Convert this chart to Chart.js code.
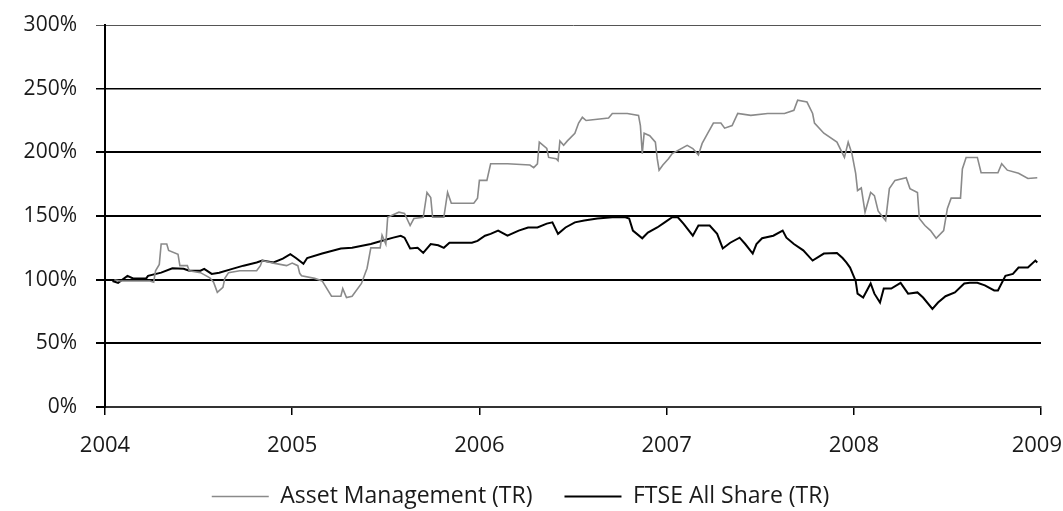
<!DOCTYPE html>
<html>
<head>
<meta charset="utf-8">
<script src="https://cdn.jsdelivr.net/npm/chart.js@4/dist/chart.umd.min.js"></script>
<style>
    html, body { margin: 0; padding: 0; background: #fff; }
    #wrap { width: 1063px; height: 511px; }
</style>
</head>
<body>
<div id="wrap"><canvas id="perfChart"></canvas></div>
<script>
// Series (x = decimal year, y = % of start value)
const amDates = [2004.05, 2004.08, 2004.24, 2004.26, 2004.27, 2004.29, 2004.30, 2004.33, 2004.34, 2004.39, 2004.40, 2004.44, 2004.45, 2004.51, 2004.56, 2004.58, 2004.60, 2004.63, 2004.64, 2004.66, 2004.72, 2004.81, 2004.83, 2004.84, 2004.90, 2004.97, 2005.00, 2005.03, 2005.04, 2005.05, 2005.12, 2005.16, 2005.21, 2005.26, 2005.27, 2005.29, 2005.32, 2005.37, 2005.39, 2005.40, 2005.42, 2005.47, 2005.48, 2005.50, 2005.51, 2005.57, 2005.60, 2005.63, 2005.65, 2005.70, 2005.72, 2005.74, 2005.75, 2005.81, 2005.83, 2005.85, 2005.97, 2005.99, 2006.00, 2006.04, 2006.06, 2006.15, 2006.27, 2006.29, 2006.31, 2006.32, 2006.36, 2006.37, 2006.41, 2006.42, 2006.43, 2006.45, 2006.47, 2006.51, 2006.53, 2006.55, 2006.57, 2006.69, 2006.71, 2006.79, 2006.85, 2006.86, 2006.87, 2006.88, 2006.91, 2006.94, 2006.95, 2006.96, 2006.98, 2007.01, 2007.03, 2007.11, 2007.14, 2007.17, 2007.19, 2007.22, 2007.25, 2007.29, 2007.31, 2007.35, 2007.38, 2007.45, 2007.54, 2007.63, 2007.68, 2007.70, 2007.75, 2007.78, 2007.79, 2007.84, 2007.91, 2007.95, 2007.97, 2007.99, 2008.01, 2008.02, 2008.04, 2008.06, 2008.09, 2008.11, 2008.13, 2008.15, 2008.17, 2008.19, 2008.22, 2008.28, 2008.30, 2008.34, 2008.35, 2008.38, 2008.41, 2008.44, 2008.48, 2008.50, 2008.52, 2008.57, 2008.58, 2008.60, 2008.66, 2008.68, 2008.77, 2008.79, 2008.82, 2008.88, 2008.93, 2008.98];
const amValues = [100, 99, 99, 98, 107, 112, 128, 128, 123, 120, 111, 111, 107, 105.5, 101.5, 98, 90, 94, 101, 105.5, 107, 107, 111, 115, 113, 111, 113, 111, 105, 103, 101, 99, 87, 87, 93, 86, 87, 97, 105, 109, 125, 125, 135, 128, 149, 153, 152, 142.5, 148, 149, 168.5, 164.5, 149, 149, 168.5, 160, 160, 164, 178, 178, 191, 191, 190, 188, 191, 208, 203, 196, 195, 193.5, 209, 205.5, 209, 215, 223, 227.5, 225, 227, 230.5, 230.5, 229, 221, 199, 215, 213, 208, 195, 186, 190, 195, 199, 205.5, 203, 198, 207, 215, 223, 223, 219, 221, 230.5, 229, 230.5, 230.5, 233, 241, 239.5, 230.5, 223, 215, 208, 196, 208, 199, 183.5, 170, 172, 153, 168.5, 166, 154, 150, 146.5, 171.5, 178, 180, 171.5, 168.5, 148, 142.5, 138.5, 132.5, 138.5, 156, 164, 164, 187, 196, 196, 184, 184, 191, 186, 183.5, 179.5, 180];

const ftseDates = [2004.04, 2004.07, 2004.12, 2004.15, 2004.22, 2004.23, 2004.30, 2004.36, 2004.42, 2004.45, 2004.51, 2004.53, 2004.57, 2004.61, 2004.68, 2004.74, 2004.81, 2004.84, 2004.90, 2004.95, 2004.99, 2005.02, 2005.06, 2005.08, 2005.16, 2005.26, 2005.32, 2005.42, 2005.48, 2005.54, 2005.58, 2005.60, 2005.63, 2005.67, 2005.70, 2005.74, 2005.78, 2005.81, 2005.84, 2005.90, 2005.96, 2005.99, 2006.03, 2006.06, 2006.10, 2006.15, 2006.21, 2006.26, 2006.31, 2006.36, 2006.39, 2006.42, 2006.46, 2006.51, 2006.56, 2006.63, 2006.71, 2006.78, 2006.80, 2006.82, 2006.87, 2006.90, 2006.95, 2006.99, 2007.03, 2007.06, 2007.09, 2007.14, 2007.17, 2007.23, 2007.27, 2007.30, 2007.34, 2007.39, 2007.42, 2007.46, 2007.48, 2007.51, 2007.57, 2007.62, 2007.64, 2007.68, 2007.73, 2007.78, 2007.84, 2007.91, 2007.94, 2007.96, 2007.98, 2008.01, 2008.02, 2008.05, 2008.09, 2008.11, 2008.14, 2008.16, 2008.20, 2008.25, 2008.29, 2008.34, 2008.37, 2008.42, 2008.45, 2008.49, 2008.54, 2008.59, 2008.62, 2008.66, 2008.70, 2008.75, 2008.77, 2008.81, 2008.85, 2008.88, 2008.93, 2008.97, 2008.98];
const ftseValues = [99, 97.5, 103, 101, 101, 103, 105.5, 109, 108.5, 107, 107, 108.5, 104.5, 105.5, 108.5, 111, 113.5, 115, 113.5, 116.5, 120, 117, 112.5, 117, 120.5, 124.5, 125, 128, 130.5, 133, 134.5, 133, 124.5, 125, 121, 128, 127, 125, 129, 129, 129, 130.5, 134.5, 136, 138.5, 134.5, 138.5, 141, 141, 144, 145, 136, 141, 145, 146.5, 148, 149, 149, 148, 138.5, 132.5, 137, 141, 145, 149, 149, 144, 134.5, 142.5, 142.5, 136, 124.5, 129, 133, 128, 120.5, 128, 132.5, 134.5, 138.5, 133, 128, 123, 115, 120.5, 121, 117, 113.5, 109.5, 99, 89, 86, 97, 89, 82, 93, 93, 97.5, 89, 90, 86, 77, 82, 87, 90, 97, 97.5, 97.5, 95.5, 91.5, 91.5, 103, 104.5, 109.5, 109.5, 115, 113.5];

const seriesNames = ["Asset Management (TR)", "FTSE All Share (TR)"];
const yearTicks = [2004, 2005, 2006, 2007, 2008, 2009];
const pctTicks = [0, 50, 100, 150, 200, 250, 300];

const FONT = "'Open Sans', 'Noto Sans', sans-serif";

const toPoints = (xs, ys) => xs.map((x, i) => ({ x: x, y: ys[i] }));

// year labels under the x axis, placed with the x scale
const yearLabels = {
    id: "yearLabels",
    afterDraw(chart) {
        const xScale = chart.scales.x;
        const c = chart.ctx;
        c.save();
        c.font = "22px " + FONT;
        c.fillStyle = "#1a1a1a";
        c.textAlign = "center";
        c.textBaseline = "middle";
        yearTicks.forEach(y => {
            const label = String(y);
            const half = c.measureText(label).width / 2;
            const px = Math.min(xScale.getPixelForValue(y), chart.width - 1 - half);
            c.fillText(label, px, chart.chartArea.bottom + 39);
        });
        c.restore();
    }
};

const ctx = document.getElementById("perfChart").getContext("2d");

const perfChart = new Chart(ctx, {
    type: "line",
    data: {
        datasets: [
            {
                label: seriesNames[0],
                data: toPoints(amDates, amValues),
                borderColor: "#8a8a8a",
                backgroundColor: "#8a8a8a",
                borderWidth: 1.6,
                pointRadius: 0,
                tension: 0,
                fill: false
            },
            {
                label: seriesNames[1],
                data: toPoints(ftseDates, ftseValues),
                borderColor: "#000000",
                backgroundColor: "#000000",
                borderWidth: 2,
                pointRadius: 0,
                tension: 0,
                fill: false
            }
        ]
    },
    plugins: [yearLabels],
    options: {
        responsive: true,
        maintainAspectRatio: false,
        animation: false,
        layout: { padding: { top: 25, right: 22, left: 0, bottom: -7 } },
        plugins: {
            tooltip: { enabled: false },
            legend: {
                position: "bottom",
                labels: {
                    usePointStyle: true,
                    pointStyle: "line",
                    pointStyleWidth: 57,
                    color: "#1a1a1a",
                    padding: 32,
                    font: { family: FONT, size: 23 }
                }
            }
        },
        scales: {
            x: {
                type: "linear",
                min: yearTicks[0],
                max: yearTicks[yearTicks.length - 1],
                afterBuildTicks: (scale) => { scale.ticks = yearTicks.map(v => ({ value: v })); },
                afterFit: (scale) => { scale.height = 46; scale.paddingLeft = 0; scale.paddingRight = 0; },
                ticks: { display: false },
                grid: { drawOnChartArea: false, drawTicks: true, tickLength: 8, color: "#000", lineWidth: 1.5 },
                border: { color: "#333", width: 2 }
            },
            y: {
                min: 0,
                max: 300,
                afterBuildTicks: (scale) => { scale.ticks = pctTicks.map(v => ({ value: v })); },
                afterFit: (scale) => { scale.width = 105; scale.paddingTop = 0; },
                ticks: {
                    color: "#1a1a1a",
                    padding: 19,
                    font: { family: FONT, size: 21 },
                    callback: (value) => value + "%"
                },
                grid: {
                    drawTicks: true,
                    tickLength: 9,
                    color: (c) => (c.tick && c.tick.value === 300 ? "#555" : "#000"),
                    lineWidth: (c) => (c.tick && c.tick.value === 300 ? 1 : (c.tick && c.tick.value === 250 ? 1.5 : 2))
                },
                border: { color: "#000", width: 2 }
            }
        }
    }
});
</script>
</body>
</html>
